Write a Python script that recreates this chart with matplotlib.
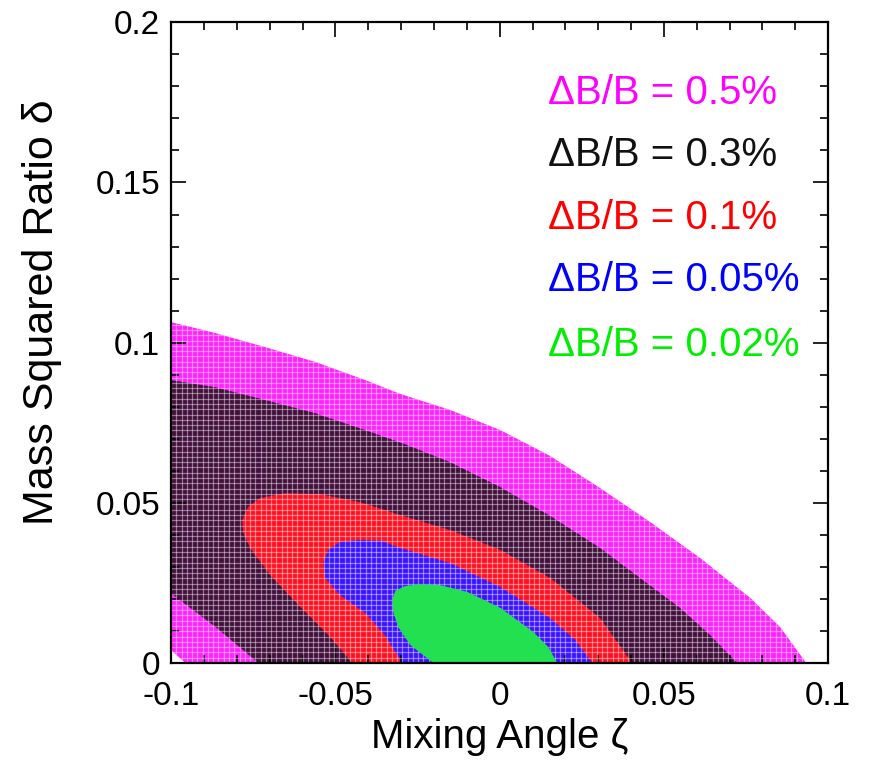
import numpy as np
import matplotlib
matplotlib.use("Agg")
import matplotlib.pyplot as plt
from matplotlib.patches import Polygon

plt.rcParams["font.family"] = ["Liberation Sans", "DejaVu Sans"]

# --- boundaries of each region, (zeta, delta) ---
zeta_05 = [-0.1, -0.1, -0.0866, -0.0714, -0.0562, -0.0409, -0.0303, -0.0151, 0.0002,
           0.0154, 0.0306, 0.0458, 0.0610, 0.0763, 0.0854, 0.0933, -0.0957]
delta_05 = [0.004, 0.1064, 0.1030, 0.0986, 0.0940, 0.0883, 0.0840, 0.0790, 0.0727,
            0.0646, 0.0546, 0.0440, 0.0328, 0.0203, 0.0112, 0.0, 0.0]

zeta_03 = [-0.1, -0.1, -0.0866, -0.0714, -0.0562, -0.0409, -0.0288, -0.0151, 0.0002,
           0.0154, 0.0306, 0.0428, 0.0549, 0.0641, 0.0723, -0.0735, -0.0866]
delta_03 = [0.0217, 0.0883, 0.0861, 0.0821, 0.0780, 0.0727, 0.0683, 0.0627, 0.0549,
            0.0459, 0.0359, 0.0265, 0.0172, 0.0087, 0.0, 0.0, 0.0113]

zeta_01 = [-0.0784, -0.0766, -0.0729, -0.0653, -0.0546, -0.0425, -0.0303, -0.0151, 0.0002,
           0.0154, 0.0306, 0.0403, -0.0449, -0.0516, -0.0607, -0.0699, -0.0760, -0.0781]
delta_01 = [0.0446, 0.0487, 0.0515, 0.0530, 0.0527, 0.0502, 0.0462, 0.0415, 0.0353,
            0.0265, 0.0140, 0.0, 0.0, 0.0081, 0.0175, 0.0275, 0.0359, 0.0409]

zeta_005 = [-0.0537, -0.0522, -0.0486, -0.0425, -0.0358, -0.0303, -0.0151, 0.0002, 0.0154,
            0.0230, 0.0282, -0.0297, -0.0349, -0.0409, -0.0486, -0.0531]
delta_005 = [0.0312, 0.0353, 0.0378, 0.0384, 0.0381, 0.0359, 0.0312, 0.0237, 0.0140,
             0.0072, 0.0, 0.0, 0.0087, 0.0156, 0.0212, 0.0265]

zeta_002 = [-0.0327, -0.0318, -0.0288, -0.0242, -0.0181, -0.0099, 0.0002, 0.0102, 0.0148,
            0.0175, -0.0202, -0.0272, -0.0309, -0.0324]
delta_002 = [0.0197, 0.0225, 0.0240, 0.0246, 0.0243, 0.0222, 0.0172, 0.0097, 0.0050,
             0.0, 0.0, 0.0056, 0.0112, 0.0159]

labels = ["\u0394B/B = 0.5%", "\u0394B/B = 0.3%", "\u0394B/B = 0.1%",
          "\u0394B/B = 0.05%", "\u0394B/B = 0.02%"]
text_colors = ["#ff00ff", "#111111", "#ff0000", "#0000ff", "#00ee00"]
fill_colors = ["#ff22ff", "#43103e", "#ff1020", "#3a14ff", "#22e050"]
label_y = [0.1778, 0.1585, 0.1388, 0.1195, 0.0992]

fig = plt.figure(figsize=(8.69, 7.7), dpi=100)
ax = fig.add_axes([0.197, 0.139, 0.756, 0.832])

regions = [(zeta_05, delta_05), (zeta_03, delta_03), (zeta_01, delta_01),
           (zeta_005, delta_005), (zeta_002, delta_002)]
patches = []
for i, (zx, dy) in enumerate(regions):
    p = Polygon(np.column_stack([zx, dy]), closed=True, facecolor=fill_colors[i],
                edgecolor="none", zorder=1 + 0.1 * i)
    if i == 4:
        p.set_zorder(3)
    ax.add_patch(p)
    patches.append(p)

# grid texture on the outer bands
gx = np.arange(-0.1, 0.1, 0.0016)
gy = np.arange(0.0, 0.2, 0.00165)
vl = ax.vlines(gx, 0, 0.2, colors="white", linewidth=0.9, alpha=0.42, zorder=2)
hl = ax.hlines(gy, -0.1, 0.1, colors="white", linewidth=0.9, alpha=0.42, zorder=2)
vl.set_clip_path(patches[0])
hl.set_clip_path(patches[0])

for lab, c, yy in zip(labels, text_colors, label_y):
    ax.text(0.0148, yy, lab, color=c, fontsize=29, ha="left", va="center", zorder=5)

ax.set_xlim(-0.1, 0.1)
ax.set_ylim(0, 0.2)
ax.set_xticks([-0.1, -0.05, 0, 0.05, 0.1])
ax.set_xticklabels(["-0.1", "-0.05", "0", "0.05", "0.1"])
ax.set_yticks([0, 0.05, 0.1, 0.15, 0.2])
ax.set_yticklabels(["0", "0.05", "0.1", "0.15", "0.2"])
ax.set_xticks(np.arange(-0.1, 0.1001, 0.01), minor=True)
ax.set_yticks(np.arange(0, 0.2001, 0.01), minor=True)
ax.tick_params(which="both", direction="in", top=True, right=True, width=1.2,
               labelsize=24)
ax.tick_params(axis="x", which="major", pad=13)
ax.tick_params(axis="y", which="major", pad=8)
ax.tick_params(which="major", length=11)
ax.tick_params(which="minor", length=6)
for s in ax.spines.values():
    s.set_linewidth(1.6)
    s.set_zorder(6)

ax.set_xlabel("Mixing Angle \u03b6", fontsize=29)
ax.set_ylabel("Mass Squared Ratio \u03b4", fontsize=31)
ax.xaxis.set_label_coords(0.5, -0.086)
ax.yaxis.set_label_coords(-0.166, 0.548)

fig.savefig("out.png", dpi=100)
